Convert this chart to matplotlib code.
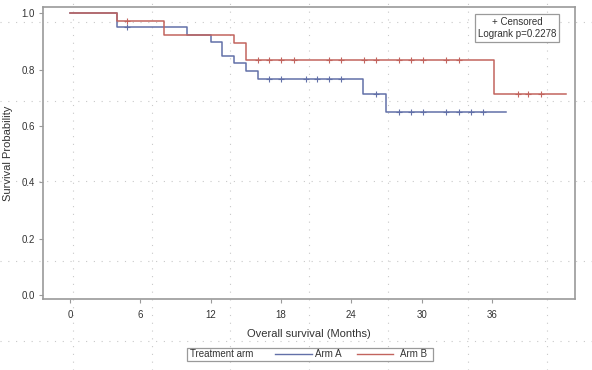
import matplotlib
matplotlib.use("Agg")
import matplotlib.pyplot as plt
from matplotlib.lines import Line2D
from matplotlib.patches import Rectangle

plt.rcParams['font.family'] = ['Liberation Sans', 'DejaVu Sans']

# ---- data ----
arm_a_times = [0, 4, 10, 12, 13, 14, 15, 16, 25, 27]
arm_a_surv = [1.0, 0.951, 0.924, 0.898, 0.849, 0.823, 0.794, 0.765, 0.715, 0.649]
arm_a_end = 37.2
arm_a_cens = [4.9, 17.0, 18.0, 20.1, 21.1, 22.1, 23.1, 26.1, 28.1, 29.1, 30.1, 32.1, 33.2, 34.2, 35.2]

arm_b_times = [0, 4, 8, 14, 15, 36.2]
arm_b_surv = [1.0, 0.972, 0.921, 0.893, 0.835, 0.715]
arm_b_end = 42.3
arm_b_cens = [4.9, 16.0, 17.0, 18.0, 19.1, 22.1, 23.1, 25.1, 26.1, 28.1, 29.1, 30.1,
              32.1, 33.2, 38.2, 39.1, 40.2]

x_ticks = [0, 6, 12, 18, 24, 30, 36]
y_ticks = [0.0, 0.2, 0.4, 0.6, 0.8, 1.0]

col_a = '#6270a8'
col_b = '#c2645e'
frame_col = '#9a9a9a'
text_col = '#333333'

W, H = 592, 370
fig = plt.figure(figsize=(W / 100, H / 100), dpi=100)
ax = fig.add_axes([43.3 / W, 1 - 299.3 / H, (575 - 43.3) / W, (299.3 - 6.7) / H])
ax.patch.set_alpha(0.0)


def step_surv(times, surv, end):
    xs = list(times) + [end]
    ys = list(surv) + [surv[-1]]
    return xs, ys


def surv_at(times, surv, t):
    val = surv[0]
    for ti, si in zip(times, surv):
        if t >= ti:
            val = si
    return val


for times, surv, end, cens, col in [
    (arm_a_times, arm_a_surv, arm_a_end, arm_a_cens, col_a),
    (arm_b_times, arm_b_surv, arm_b_end, arm_b_cens, col_b),
]:
    xs, ys = step_surv(times, surv, end)
    ax.step(xs, ys, where='post', color=col, lw=1.1, zorder=3)
    cy = [surv_at(times, surv, t) for t in cens]
    ax.plot(cens, cy, ls='none', marker='+', ms=4, mew=0.8, color=col, zorder=4)

ax.set_xlim(-2.28, 43.09)
ax.set_ylim(-0.015, 1.023)
ax.set_xticks(x_ticks)
ax.set_xticklabels([str(t) for t in x_ticks])
ax.set_yticks(y_ticks)
ax.set_yticklabels([f"{v:.1f}" for v in y_ticks])
ax.tick_params(direction='out', length=3, width=0.8, color=frame_col,
               labelsize=7, labelcolor=text_col, pad=3)
ax.tick_params(axis='x', pad=5)
for s in ax.spines.values():
    s.set_color(frame_col)
    s.set_linewidth(1.2)

ax.set_xlabel('Overall survival (Months)', fontsize=8, color=text_col, labelpad=6)
ax.set_ylabel('Survival Probability', fontsize=8, color=text_col, labelpad=6)

ax.text(0.965, 0.965, '+ Censored\nLogrank p=0.2278', transform=ax.transAxes,
        ha='right', va='top', fontsize=7, color=text_col, multialignment='center',
        linespacing=1.3,
        bbox=dict(boxstyle='square,pad=0.3', fc='white', ec=frame_col, lw=0.9), zorder=6)

# faint dotted guide grid over the whole image
for xg in [72.7, 151.7, 230, 309.3, 388.3, 467.7, 546.7]:
    fig.add_artist(Line2D([xg / W, xg / W], [0, 1], transform=fig.transFigure,
                          color='#c9c9c9', lw=0.8, dashes=(1, 6), zorder=0))
for yg in [22, 101, 181, 261, 341]:
    fig.add_artist(Line2D([0, 1], [1 - yg / H, 1 - yg / H], transform=fig.transFigure,
                          color='#c9c9c9', lw=0.8, dashes=(1, 6), zorder=0))

# legend box at the bottom
lx0, lx1, ly0, ly1 = 186.7, 433, 348, 360.5
fig.add_artist(Rectangle((lx0 / W, 1 - ly1 / H), (lx1 - lx0) / W, (ly1 - ly0) / H,
                         transform=fig.transFigure, fc='white', ec=frame_col, lw=0.9, zorder=5))
ymid = 1 - (ly0 + ly1) / 2 / H
fig.text(190 / W, ymid, 'Treatment arm', fontsize=7, color=text_col, ha='left', va='center', zorder=6)
fig.add_artist(Line2D([275 / W, 311.7 / W], [ymid, ymid], transform=fig.transFigure,
                      color=col_a, lw=1.0, zorder=6))
fig.text(315 / W, ymid, 'Arm A', fontsize=7, color=text_col, ha='left', va='center', zorder=6)
fig.add_artist(Line2D([356.7 / W, 393 / W], [ymid, ymid], transform=fig.transFigure,
                      color=col_b, lw=1.0, zorder=6))
fig.text(400 / W, ymid, 'Arm B', fontsize=7, color=text_col, ha='left', va='center', zorder=6)

fig.savefig('out.png', dpi=100)
